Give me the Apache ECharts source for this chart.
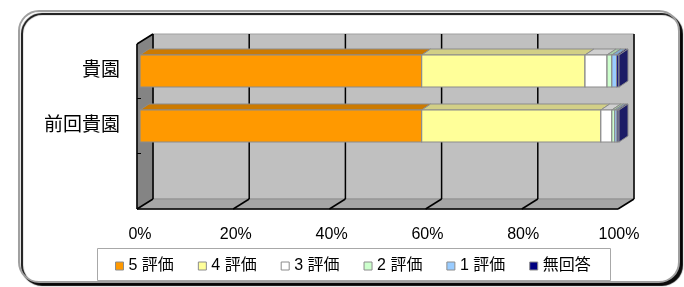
<!DOCTYPE html>
<html>
<head>
<meta charset="utf-8">
<style>
html,body{margin:0;padding:0;background:#fff;}
#c{width:684px;height:287px;}
</style>
<script src="https://cdn.jsdelivr.net/npm/echarts@6/dist/echarts.min.js"></script>
</head>
<body>
<div id="c"></div>
<script>
// ---- data ----
const categories = ['貴園', '前回貴園', ''];
const seriesNames = ['5 評価', '4 評価', '3 評価', '2 評価', '1 評価', '無回答'];
const rating5 = [58.8, 58.8];
const rating4 = [34.1, 37.4];
const rating3 = [4.6, 2.3];
const rating2 = [1.0, 0.6];
const rating1 = [1.0, 0.5];
const noAnswer = [0.5, 0.4];
const xTicks = [0, 20, 40, 60, 80, 100];

const valueSets = [rating5, rating4, rating3, rating2, rating1, noAnswer];
const frontColors = ['#FF9900', '#FFFF99', '#FFFFFF', '#CCFFCC', '#99CCFF', '#000080'];
const topColors = ['#CC7A00', '#D2CF86', '#D0D0D0', '#A8D0A8', '#7FAAD2', '#000066'];
const sideColors = ['#B36B00', '#B3B36B', '#B3B3B3', '#8FB38F', '#6B8FB3', '#1C1C66'];

const FONT = '"Liberation Sans", "Noto Sans CJK JP", sans-serif';
const DX = 9, DY = -6;      // bar depth
const WX = 16, WY = -10;    // wall depth

// cumulative starts for stacking
const stackData = valueSets.map(() => []);
for (let j = 0; j < 2; j++) {
  let acc = 0;
  for (let i = 0; i < valueSets.length; i++) {
    const v = valueSets[i][j];
    stackData[i].push([acc, acc + v, j]);
    acc += v;
  }
}

function wallRender(params, api) {
  const cs = params.coordSys;
  const FL = cs.x - 3, FR = cs.x + cs.width - 1, FT = cs.y + 0.5, FB = cs.y + cs.height + 0.5;
  const ch = [];
  ch.push({type: 'polygon', shape: {points: [[FL + WX, FT + WY], [FR + WX, FT + WY], [FR + WX, FB + WY], [FL + WX, FB + WY]]},
    style: {fill: '#C0C0C0', stroke: '#A0A0A0', lineWidth: 1}});
  ch.push({type: 'polygon', shape: {points: [[FL, FB], [FR, FB], [FR + WX, FB + WY], [FL + WX, FB + WY]]},
    style: {fill: '#A6A6A6', stroke: '#909090', lineWidth: 1}});
  ch.push({type: 'polygon', shape: {points: [[FL, FT], [FL + WX, FT + WY], [FL + WX, FB + WY], [FL, FB]]},
    style: {fill: '#848484', stroke: '#606060', lineWidth: 1}});
  xTicks.forEach(v => {
    const xf = FL + (FR - FL) * v / 100;
    const xb = xf + WX;
    ch.push({type: 'line', shape: {x1: xb, y1: FT + WY, x2: xb, y2: FB + WY}, style: {stroke: '#000', lineWidth: 1.5}});
    ch.push({type: 'line', shape: {x1: xb, y1: FB + WY, x2: xf, y2: FB}, style: {stroke: '#000', lineWidth: 1.5}});
  });
  ch.push({type: 'line', shape: {x1: FL, y1: FB, x2: FR, y2: FB}, style: {stroke: '#000', lineWidth: 1.5}});
  ch.push({type: 'line', shape: {x1: FL, y1: FT, x2: FL, y2: FB}, style: {stroke: '#000', lineWidth: 1.5}});
  ch.push({type: 'line', shape: {x1: FL, y1: FT, x2: FL + WX, y2: FT + WY}, style: {stroke: '#000', lineWidth: 1.5}});
  [1, 2].forEach(k => {
    const y = cs.y + cs.height * k / 3;
    ch.push({type: 'line', shape: {x1: FL, y1: y, x2: FL + 4, y2: y}, style: {stroke: '#000', lineWidth: 1}});
  });
  return {type: 'group', children: ch};
}

function makeBarRender(i) {
  const isLast = i === valueSets.length - 1;
  return function (params, api) {
    const s = api.value(0), e = api.value(1), c = api.value(2);
    const p1 = api.coord([s, c]);
    const p2 = api.coord([e, c]);
    const band = api.size([0, 1])[1];
    const h = band * 0.582;
    const x1 = p1[0], x2 = p2[0];
    const y1 = p1[1] - h / 2, y2 = p1[1] + h / 2;
    const ch = [];
    ch.push({type: 'polygon', shape: {points: [[x1, y1], [x2, y1], [x2 + DX, y1 + DY], [x1 + DX, y1 + DY]]},
      style: {fill: topColors[i], stroke: '#8C8C8C', lineWidth: 1}});
    ch.push({type: 'rect', shape: {x: x1, y: y1, width: x2 - x1, height: h},
      style: {fill: frontColors[i], stroke: '#8C8C8C', lineWidth: 1.2}});
    if (isLast) {
      ch.push({type: 'polygon', shape: {points: [[x2, y1], [x2 + DX, y1 + DY], [x2 + DX, y2 + DY], [x2, y2]]},
        style: {fill: sideColors[i], stroke: '#8C8C8C', lineWidth: 1}});
    }
    return {type: 'group', children: ch};
  };
}

const series = [{
  type: 'custom', name: 'walls', z: 1, silent: true,
  renderItem: wallRender, data: [[0, 0, 0]], encode: {x: [0, 1], y: 2}
}];
seriesNames.forEach((n, i) => {
  series.push({
    type: 'custom', name: n, z: 2 + i,
    renderItem: makeBarRender(i),
    itemStyle: {color: frontColors[i]},
    encode: {x: [0, 1], y: 2},
    data: stackData[i]
  });
});

const chart = echarts.init(document.getElementById('c'));
chart.setOption({
  animation: false,
  backgroundColor: '#fff',
  graphic: [
    {type: 'rect', z: -10, shape: {x: 19, y: 11, width: 660, height: 271, r: 20},
      style: {fill: '#fff', stroke: '#A0A0A0', lineWidth: 2, shadowColor: 'rgba(0,0,0,0.95)', shadowOffsetX: 3, shadowOffsetY: 3, shadowBlur: 1}},
    {type: 'rect', z: -9, shape: {x: 97.5, y: 248.5, width: 513, height: 32},
      style: {fill: '#fff', stroke: '#A8A8A8', lineWidth: 1}}
  ],
  grid: {left: 140, width: 479, top: 43.5, height: 165},
  xAxis: {
    type: 'value', min: 0, max: 100, interval: 20,
    axisLine: {show: false}, axisTick: {show: false}, splitLine: {show: false},
    axisLabel: {formatter: '{value}%', fontSize: 16, color: '#000', fontFamily: FONT, margin: 18}
  },
  yAxis: {
    type: 'category', inverse: true, data: categories,
    axisLine: {show: false}, axisTick: {show: false}, splitLine: {show: false},
    axisLabel: {fontSize: 19, color: '#000', fontFamily: FONT, margin: 20}
  },
  legend: {
    data: seriesNames, left: 110, top: 253, itemWidth: 8, itemHeight: 8, itemGap: 24, icon: 'rect',
    itemStyle: {borderColor: '#8C8C8C', borderWidth: 1},
    textStyle: {fontSize: 16, color: '#000', fontFamily: FONT}
  },
  series: series
});
</script>
</body>
</html>
